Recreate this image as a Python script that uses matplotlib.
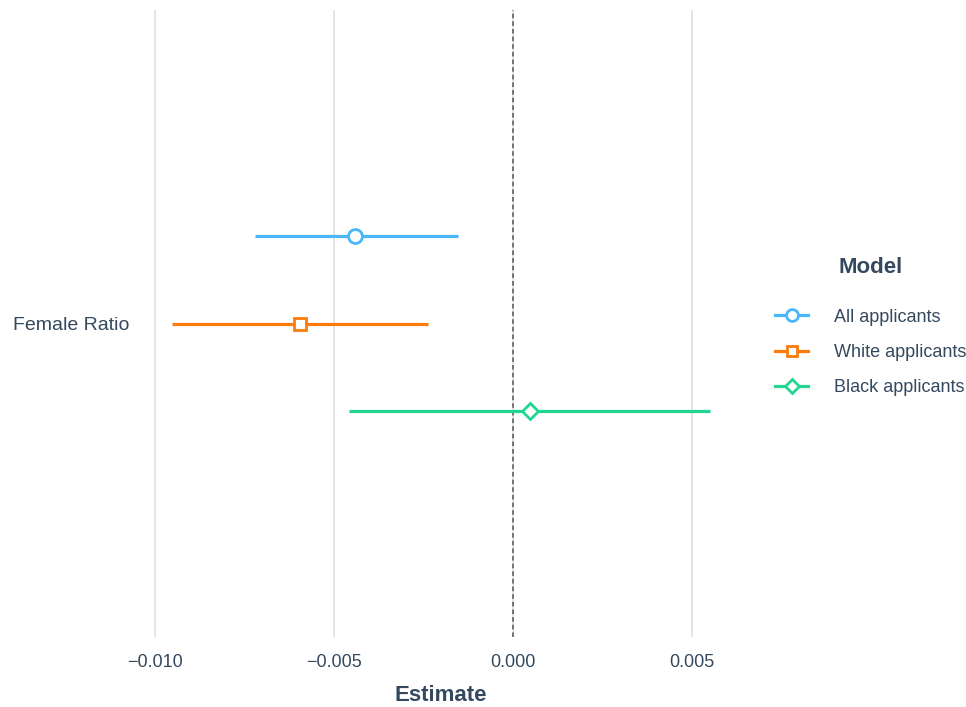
import numpy as np
import matplotlib.pyplot as plt
from matplotlib.lines import Line2D

plt.rcParams['font.family'] = ['Liberation Sans', 'DejaVu Sans']

models = ['All applicants', 'White applicants', 'Black applicants']
estimates = [-0.00441, -0.00595, 0.00047]
ci_low = [-0.00721, -0.00954, -0.00458]
ci_high = [-0.00155, -0.00237, 0.00550]
term = 'Female Ratio'

colors = ['#4ab7fa', '#fb7c0a', '#20d690']
markers = ['o', 's', 'D']
msizes = [10, 9, 8.5]
offsets = [0.25, 0.0, -0.25]
txt = '#34495e'

fig = plt.figure(figsize=(9.66, 7.07), dpi=100)
ax = fig.add_axes([140 / 966, 1 - 637 / 707, 580 / 966, 627 / 707])

for i in range(len(models)):
    y = offsets[i]
    ax.plot([ci_low[i], ci_high[i]], [y, y], color=colors[i], lw=2.3,
            solid_capstyle='butt', zorder=3)
    ax.plot(estimates[i], y, marker=markers[i], ms=msizes[i], mfc='white',
            mec=colors[i], mew=2, ls='none', zorder=4)

ax.axvline(0, color='#555555', lw=1.1, ls=(0, (3, 2)), zorder=2)

ax.set_xlim(-0.01042, 0.00578)
ax.set_ylim(-0.9, 0.9)
ax.set_xticks([-0.010, -0.005, 0.000, 0.005])
ax.set_xticklabels(['\u22120.010', '\u22120.005', '0.000', '0.005'])
ax.set_yticks([0])
ax.set_yticklabels([term])
ax.grid(axis='x', color='#e3e3e3', lw=1.3, zorder=0)
ax.grid(axis='y', visible=False)
for s in ax.spines.values():
    s.set_visible(False)
ax.tick_params(axis='both', length=0, colors=txt)
ax.tick_params(axis='x', pad=12, labelsize=13)
ax.tick_params(axis='y', pad=8, labelsize=14)
ax.set_xlabel('Estimate', fontsize=16, fontweight='bold', color=txt)
ax.xaxis.set_label_coords((441 - 140) / 580, -0.076)

handles = [Line2D([0], [0], color=colors[i], lw=2.3, marker=markers[i],
                  ms=msizes[i] * 0.85, mfc='white', mec=colors[i], mew=2)
           for i in range(len(models))]
leg = fig.legend(handles, models, loc='upper left', bbox_to_anchor=(768 / 966, 1 - 250 / 707),
                 frameon=False, fontsize=13, title='Model', handlelength=1.83,
                 handletextpad=1.44, labelspacing=1.0, borderaxespad=0)
leg.get_title().set_fontweight('bold')
leg.get_title().set_fontsize(16)
leg.get_title().set_color(txt)
leg._legend_box.sep = 22
for t in leg.get_texts():
    t.set_color(txt)

fig.savefig('out.png', dpi=100)
